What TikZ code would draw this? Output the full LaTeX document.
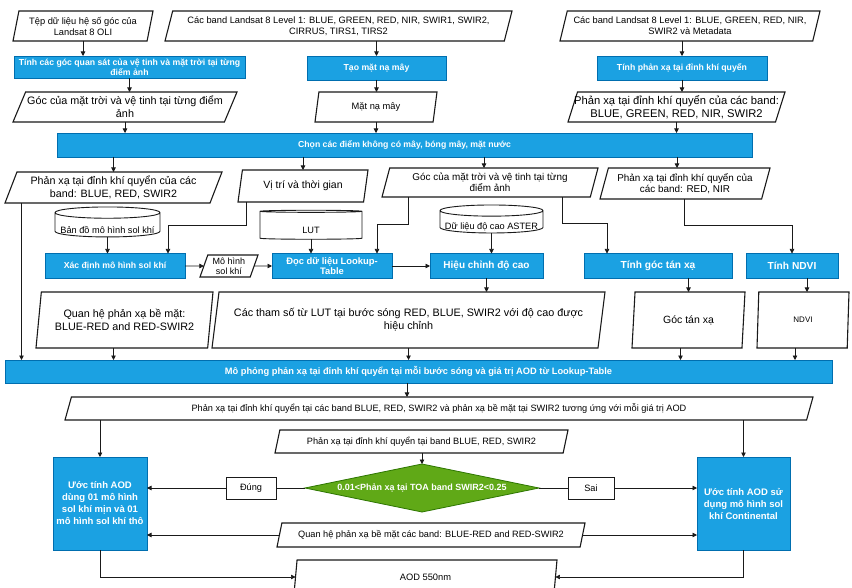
\documentclass[tikz,border=0pt]{standalone}
\usepackage{fontspec}
\setmainfont{Liberation Sans}
\usetikzlibrary{arrows.meta,shapes.geometric}
\definecolor{fillblue}{HTML}{1BA1E2}
\definecolor{edgeblue}{HTML}{006EAF}
\definecolor{fillgreen}{HTML}{60A917}
\definecolor{edgegreen}{HTML}{2D7600}
\definecolor{ink}{HTML}{1A1A1A}

\begin{document}
\begin{tikzpicture}[x=1pt,y=-1pt,
  blk/.style={draw=edgeblue,fill=fillblue,line width=0.8pt,text=white,align=center,inner sep=0pt,outer sep=0pt,font=\bfseries\fontsize{8.7}{9.6}\selectfont},
  io/.style={trapezium,trapezium left angle=#1,trapezium right angle={180-#1},trapezium stretches body=true,draw=ink,fill=white,line width=1.1pt,align=center,inner ysep=0pt,inner xsep=-20pt,outer sep=0pt,font=\fontsize{9.3}{11}\selectfont},
  db/.style={cylinder,shape border rotate=90,aspect=0.12,draw=ink,fill=white,line width=0.9pt,inner sep=0pt,outer sep=0pt,font=\fontsize{9.2}{10}\selectfont},
  tag/.style={draw=ink,fill=white,line width=0.7pt,inner sep=0pt,outer sep=0pt,minimum height=22pt,font=\fontsize{9.2}{10}\selectfont},
  choice/.style={diamond,aspect=4.9,draw=edgegreen,fill=fillgreen,line width=0.8pt,text=white,inner sep=0pt,outer sep=0pt,font=\bfseries\fontsize{9}{10}\selectfont},
  flow/.style={-{Triangle[length=4.5pt,width=4.5pt]},line width=0.7pt,ink}]
  \useasboundingbox (0,0) rectangle (852,588);
  \fill[white] (0,0) rectangle (852,588);

  % ===== row 1: input data =====
  \node[io=72,minimum width=140pt,minimum height=30pt] (tep) at (83,26) {Tệp dữ liệu hệ số góc của\\Landsat 8 OLI};
  \node[io=68,minimum width=347pt,minimum height=30pt] (l1all) at (338.5,26) {Các band Landsat 8 Level 1: BLUE, GREEN, RED, NIR, SWIR1, SWIR2,\\CIRRUS, TIRS1, TIRS2};
  \node[io=68,minimum width=260pt,minimum height=30pt] (l1meta) at (690,26) {Các band Landsat 8 Level 1: BLUE, GREEN, RED, NIR,\\SWIR2 và Metadata};

  % ===== row 2: preprocessing =====
  \node[blk,minimum width=231pt,minimum height=22pt] (gocqs) at (129.5,67) {Tính các góc quan sát của vệ tinh và mặt trời tại từng\\điểm ảnh};
  \node[blk,minimum width=139pt,minimum height=24pt] (mask) at (376.5,68) {Tạo mặt nạ mây};
  \node[blk,minimum width=170pt,minimum height=24pt] (toa) at (682,68) {Tính phản xạ tại đỉnh khí quyển};

  % ===== row 3 =====
  \node[io=60,minimum width=224pt,minimum height=30pt,font=\fontsize{10.8}{13}\selectfont] (goc) at (125,107) {Góc của mặt trời và vệ tinh tại từng điểm\\ảnh};
  \node[io=66,minimum width=122pt,minimum height=30pt] (maskout) at (376,107) {Mặt nạ mây};
  \node[io=68,minimum width=217pt,minimum height=30pt,font=\fontsize{11.2}{13}\selectfont] (toaout) at (676.5,107) {Phản xạ tại đỉnh khí quyển của các band:\\BLUE, GREEN, RED, NIR, SWIR2};

  % ===== row 4: masking =====
  \node[blk,minimum width=695pt,minimum height=24pt] (chon) at (404.5,145) {Chọn các điểm không có mây, bóng mây, mặt nước};

  % ===== row 5 =====
  \node[io=62,minimum width=217pt,minimum height=31pt,font=\fontsize{10.7}{12.5}\selectfont] (toa3) at (113.5,187.5) {Phản xạ tại đỉnh khí quyển của các\\band: BLUE, RED, SWIR2};
  \node[io=66,minimum width=130pt,minimum height=32pt,font=\fontsize{10.5}{12}\selectfont] (vitri) at (303,186) {Vị trí và thời gian};
  \node[io=68,minimum width=216pt,minimum height=29pt,font=\fontsize{9.9}{11.5}\selectfont] (goc2) at (490,182.5) {Góc của mặt trời và vệ tinh tại từng\\điểm ảnh};
  \node[io=68,minimum width=170pt,minimum height=31pt,font=\fontsize{9.9}{11.5}\selectfont] (toa2) at (685,183.5) {Phản xạ tại đỉnh khí quyển của\\các band: RED, NIR};

  % ===== row 6: databases (label sits below the top ellipse) =====
  \node[db,minimum width=105pt,minimum height=30pt] (bando) at (107.5,225) {\raisebox{-5pt}[\height][\depth]{Bản đồ mô hình sol khí}};
  \node[db,minimum width=102pt,minimum height=29pt] (lut) at (311,225.5) {\raisebox{-5pt}[\height][\depth]{LUT}};
  \node[db,minimum width=103pt,minimum height=28pt] (aster) at (491.5,222) {\raisebox{-5pt}[\height][\depth]{Dữ liệu độ cao ASTER}};

  % ===== row 7: processing =====
  \node[blk,minimum width=140pt,minimum height=25pt] (xacdinh) at (115,266) {Xác định mô hình sol khí};
  \node[io=65,minimum width=58pt,minimum height=22pt,font=\fontsize{9}{10}\selectfont] (model) at (229,266) {Mô hình\\sol khí};
  \node[blk,minimum width=120pt,minimum height=25pt,font=\bfseries\fontsize{9.4}{10.5}\selectfont] (doclut) at (332,266) {Đọc dữ liệu Lookup-\\Table};
  \node[blk,minimum width=113pt,minimum height=25pt,font=\bfseries\fontsize{10}{11}\selectfont] (hieuchinh) at (486.5,266) {Hiệu chỉnh độ cao};
  \node[blk,minimum width=148pt,minimum height=25pt,font=\bfseries\fontsize{10.2}{11}\selectfont] (tangoc) at (658,266) {Tính góc tán xạ};
  \node[blk,minimum width=92pt,minimum height=25pt,font=\bfseries\fontsize{10.2}{11}\selectfont] (ndvi) at (792,266) {Tính NDVI};

  % ===== row 8 =====
  \node[io=76,minimum width=177pt,minimum height=56pt,font=\fontsize{10.8}{13}\selectfont] (qh) at (124.5,320) {Quan hệ phản xạ bề mặt:\\BLUE-RED and RED-SWIR2};
  \node[io=73,minimum width=393pt,minimum height=56pt,font=\fontsize{10.8}{13}\selectfont] (thamso) at (408.5,320) {Các tham số từ LUT tại bước sóng RED, BLUE, SWIR2 với độ cao được\\hiệu chỉnh};
  \node[io=72,minimum width=113pt,minimum height=56pt,font=\fontsize{10.5}{12}\selectfont] (gocout) at (688.5,320) {Góc tán xạ};
  \node[io=72,minimum width=92pt,minimum height=56pt,font=\fontsize{8}{9}\selectfont] (ndviout) at (803,320) {NDVI};

  % ===== row 9: simulation =====
  \node[blk,minimum width=827pt,minimum height=23pt,font=\bfseries\fontsize{9.3}{10}\selectfont] (mophong) at (418.5,371.5) {Mô phỏng phản xạ tại đỉnh khí quyển tại mỗi bước sóng và giá trị AOD từ Lookup-Table};
  \node[io=57,minimum width=748pt,minimum height=23pt,font=\fontsize{9.2}{10}\selectfont] (ketqua) at (439,408.5) {Phản xạ tại đỉnh khí quyển tại các band BLUE, RED, SWIR2 và phản xạ bề mặt tại SWIR2 tương ứng với mỗi giá trị AOD};

  % ===== decision =====
  \node[io=62.5,minimum width=293pt,minimum height=23pt,font=\fontsize{9.2}{10}\selectfont] (toa4) at (421.5,441.5) {Phản xạ tại đỉnh khí quyển tại band BLUE, RED, SWIR2};
  \node[choice,minimum width=234pt,minimum height=48pt] (dk) at (422,488) {0.01<Phản xạ tại TOA band SWIR2<0.25};
  \node[tag,minimum width=50pt] (dung) at (251,488) {Đúng};
  \node[tag,minimum width=46pt] (sai) at (591,488) {Sai};
  \node[blk,minimum width=94pt,minimum height=93pt,font=\bfseries\fontsize{9.5}{12}\selectfont] (aodmix) at (100,503.5) {Ước tính AOD\\dùng 01 mô hình\\sol khí mịn và 01\\mô hình sol khí thô};
  \node[blk,minimum width=93pt,minimum height=93pt,font=\bfseries\fontsize{9.5}{12}\selectfont] (aodcont) at (743.5,503.5) {Ước tính AOD sử\\dụng mô hình sol\\khí Continental};
  \node[io=61.5,minimum width=308pt,minimum height=24pt,font=\fontsize{9.2}{10}\selectfont] (qh2) at (431,535) {Quan hệ phản xạ bề mặt các band: BLUE-RED and RED-SWIR2};
  \node[io=65,minimum width=263pt,minimum height=34pt] (aod) at (425.5,577) {AOD 550nm};

  % ===== connectors =====
  \draw[flow] (tep.south) -- (tep.south |- gocqs.north);
  \draw[flow] (mask.north |- l1all.south) -- (mask.north);
  \draw[flow] (toa.north |- l1meta.south) -- (toa.north);
  \draw[flow] (gocqs.south) -- (gocqs.south |- goc.north);
  \draw[flow] (mask.south) -- (mask.south |- maskout.north);
  \draw[flow] (toa.south) -- (toa.south |- toaout.north);
  \draw[flow] (goc.south) -- (goc.south |- chon.north);
  \draw[flow] (maskout.south) -- (maskout.south |- chon.north);
  \draw[flow] (toaout.south) -- (toaout.south |- chon.north);
  \draw[flow] (toa3.north |- chon.south) -- (toa3.north);
  \draw[flow] (vitri.north |- chon.south) -- (vitri.north);
  \draw[flow] ([xshift=-6pt]goc2.north |- chon.south) -- ([xshift=-6pt]goc2.north);
  \draw[flow] ([xshift=-8pt]toa2.north |- chon.south) -- ([xshift=-8pt]toa2.north);
  % elbows into row 7
  \draw[flow] ([xshift=-57pt]vitri.south) -- ++(0,23) -| ([xshift=53pt]xacdinh.north);
  \draw[flow] ([xshift=-82pt]goc2.south) -- ++(0,27) -| ([xshift=45pt]doclut.north);
  \draw[flow] ([xshift=72pt]goc2.south) -- ++(0,26) -| ([xshift=-51pt]tangoc.north);
  \draw[flow] ([xshift=-1pt]toa2.south) -- ++(0,26) -| (ndvi.north);
  \draw[flow] (bando.south) -- (bando.south |- xacdinh.north);
  \draw[flow] (lut.south) -- (lut.south |- doclut.north);
  \draw[flow] (aster.south) -- (aster.south |- hieuchinh.north);
  \draw[flow] (xacdinh.east) -- (model.west);
  \draw[flow] (model.east) -- (doclut.west);
  \draw[flow] (doclut.east) -- (hieuchinh.west);
  % into row 8
  \draw[flow] (hieuchinh.south) -- (hieuchinh.south |- thamso.north);
  \draw[flow] (tangoc.south -| gocout.north) -- (gocout.north);
  \draw[flow] ([xshift=15pt]ndvi.south) -- ([xshift=15pt]ndvi.south |- ndviout.north);
  % into simulation
  \draw[flow] ([xshift=-92pt]toa3.south) -- ([xshift=-92pt]toa3.south |- mophong.north);
  \draw[flow] ([xshift=-11pt]qh.south) -- ([xshift=-11pt]qh.south |- mophong.north);
  \draw[flow] (thamso.south) -- (thamso.south |- mophong.north);
  \draw[flow] ([xshift=-8pt]gocout.south) -- ([xshift=-8pt]gocout.south |- mophong.north);
  \draw[flow] ([xshift=-8pt]ndviout.south) -- ([xshift=-8pt]ndviout.south |- mophong.north);
  \draw[flow] ([xshift=-11.5pt]mophong.south) -- ([xshift=-11.5pt]mophong.south |- ketqua.north);
  % AOD estimation
  \draw[flow] (aodmix.north |- ketqua.south) -- (aodmix.north);
  \draw[flow] (aodcont.north |- ketqua.south) -- (aodcont.north);
  \draw[flow] (dk.north |- toa4.south) -- (dk.north);
  \draw[ink,line width=0.7pt] (dk.west) -- (dung.east);
  \draw[flow] (dung.west) -- (dung.west -| aodmix.east);
  \draw[ink,line width=0.7pt] (dk.east) -- (sai.west);
  \draw[flow] (sai.east) -- (sai.east -| aodcont.west);
  \draw[flow] (qh2.west) -- (qh2.west -| aodmix.east);
  \draw[flow] (qh2.east) -- (qh2.east -| aodcont.west);
  \draw[flow] (aodmix.south) |- (aod.west);
  \draw[flow] (aodcont.south) |- (aod.east);
\end{tikzpicture}
\end{document}
